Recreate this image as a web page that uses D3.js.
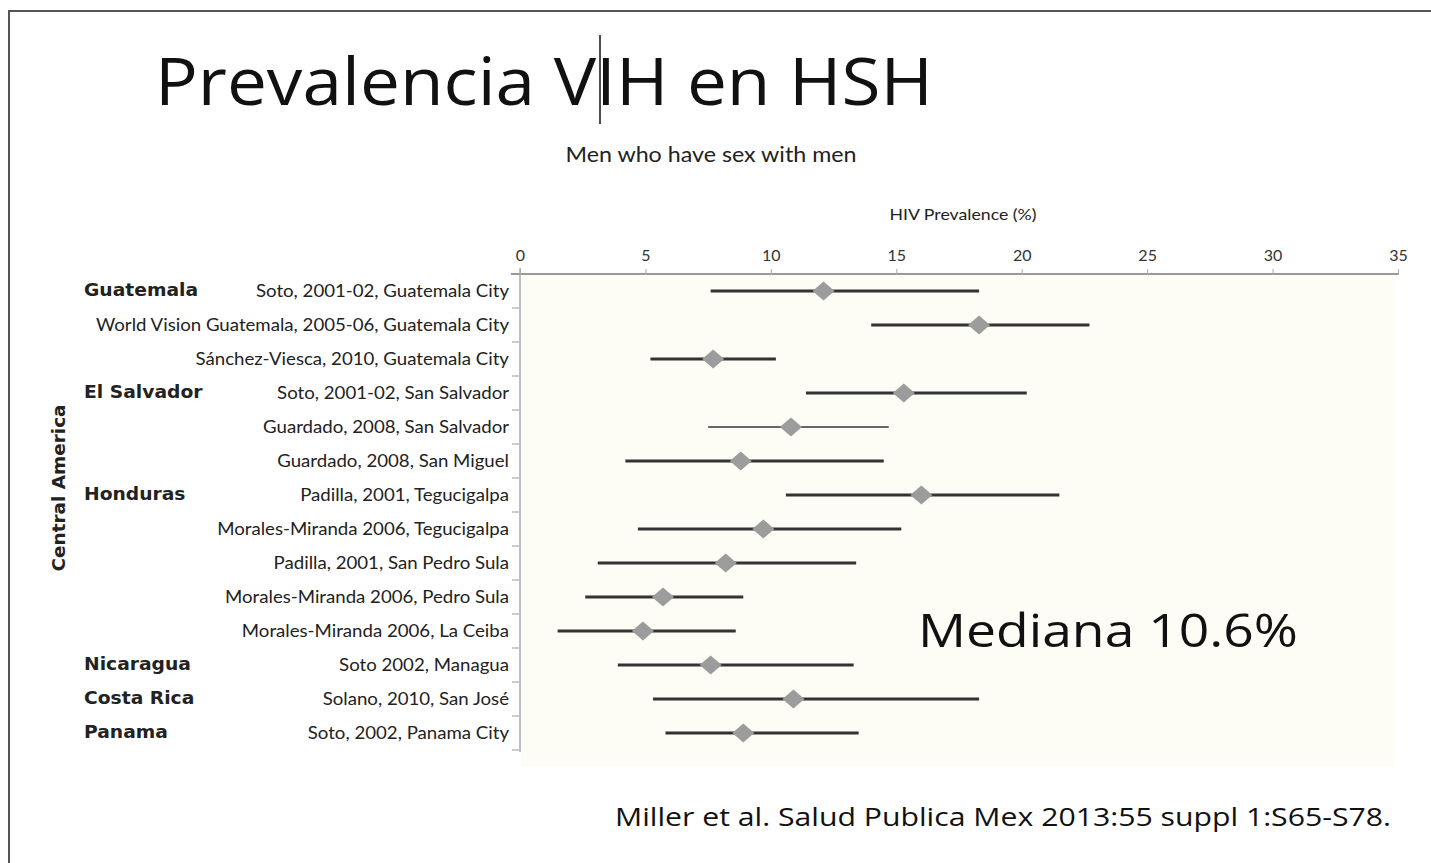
<!DOCTYPE html>
<html>
<head>
<meta charset="utf-8">
<script src="https://cdn.jsdelivr.net/npm/d3@7"></script>
<style>
  body { margin: 0; background: #fff; }
  svg { display: block; }
  .lab { font-family: Lato, "Open Sans", sans-serif; fill: #222; }
  .bold { font-family: "DejaVu Sans", sans-serif; font-weight: bold; fill: #222; }
  .slide { font-family: "Open Sans", sans-serif; fill: #111; }
</style>
</head>
<body>
<div id="chart"></div>
<script>
// studies, top to bottom
const studies = [
  "Soto, 2001-02, Guatemala City",
  "World Vision Guatemala, 2005-06, Guatemala City",
  "Sánchez-Viesca, 2010, Guatemala City",
  "Soto, 2001-02, San Salvador",
  "Guardado, 2008, San Salvador",
  "Guardado, 2008, San Miguel",
  "Padilla, 2001, Tegucigalpa",
  "Morales-Miranda 2006, Tegucigalpa",
  "Padilla, 2001, San Pedro Sula",
  "Morales-Miranda 2006, Pedro Sula",
  "Morales-Miranda 2006, La Ceiba",
  "Soto 2002, Managua",
  "Solano, 2010, San José",
  "Soto, 2002, Panama City"
];
const studyCountry = [
  "Guatemala", "Guatemala", "Guatemala",
  "El Salvador", "El Salvador", "El Salvador",
  "Honduras", "Honduras", "Honduras", "Honduras", "Honduras",
  "Nicaragua", "Costa Rica", "Panama"
];
const prevalence = [12.1, 18.3, 7.7, 15.3, 10.8, 8.8, 16.0, 9.7, 8.2, 5.7, 4.9, 7.6, 10.9, 8.9];
const lower      = [7.6, 14.0, 5.2, 11.4, 7.5, 4.2, 10.6, 4.7, 3.1, 2.6, 1.5, 3.9, 5.3, 5.8];
const upper      = [18.3, 22.7, 10.2, 20.2, 14.7, 14.5, 21.5, 15.2, 13.4, 8.9, 8.6, 13.3, 18.3, 13.5];
const xTicks = [0, 5, 10, 15, 20, 25, 30, 35];

const width = 1431, height = 863;

const svg = d3.select("#chart").append("svg")
    .attr("width", width)
    .attr("height", height);

// slide frame (top and left only)
svg.append("path")
    .attr("d", "M9,863 V11 H1431")
    .attr("fill", "none")
    .attr("stroke", "#555")
    .attr("stroke-width", 2);

// squeeze a text to a given width
function fit(sel, w) {
  let len = sel.node().getComputedTextLength();
  if (Math.abs(len - w) > 2) sel.attr("textLength", w).attr("lengthAdjust", "spacingAndGlyphs");
  return sel;
}

// title
let title = svg.append("text")
    .attr("class", "slide")
    .attr("x", 155).attr("y", 105)
    .attr("font-size", 66)
    .text("Prevalencia VIH en HSH");
fit(title, 778);

// text cursor
svg.append("line")
    .attr("x1", 600).attr("x2", 600)
    .attr("y1", 35).attr("y2", 124)
    .attr("stroke", "#111").attr("stroke-width", 1.5);

let x = d3.scaleLinear()
    .domain([0, 35])
    .range([520, 1398]);

let y = d3.scaleBand()
    .domain(studies)
    .range([274, 750]);

// plot background
svg.append("rect")
    .attr("x", 521).attr("y", 275)
    .attr("width", 872).attr("height", 492)
    .attr("fill", "#fdfdf5");

let sub = svg.append("text")
    .attr("class", "lab")
    .attr("x", 711).attr("y", 162)
    .attr("text-anchor", "middle")
    .attr("font-size", 21)
    .text("Men who have sex with men");
fit(sub, 291);

let axTitle = svg.append("text")
    .attr("class", "lab")
    .attr("x", 963).attr("y", 220)
    .attr("text-anchor", "middle")
    .attr("font-size", 16)
    .text("HIV Prevalence (%)");
fit(axTitle, 147);

// top axis
let xAxis = svg.append("g")
    .attr("transform", "translate(0,274)")
    .call(d3.axisTop(x).tickValues(xTicks).tickSize(5).tickPadding(8));
xAxis.select(".domain").attr("stroke", "#999").attr("stroke-width", 2).attr("d", "M511,0H1398");
xAxis.selectAll(".tick line").attr("stroke", "#aaa").attr("y2", -5).attr("y1", 1);
xAxis.selectAll(".tick text")
    .attr("font-family", "Lato, sans-serif")
    .attr("font-size", 16)
    .attr("fill", "#333");

// left axis with ticks between rows
svg.append("line")
    .attr("x1", 520).attr("x2", 520)
    .attr("y1", 268).attr("y2", 752)
    .attr("stroke", "#aaa").attr("stroke-width", 1.5);

svg.selectAll(".ytick")
    .data(studies)
  .enter().append("line")
    .attr("class", "ytick")
    .attr("x1", 512).attr("x2", 520)
    .attr("y1", d => y(d) + y.bandwidth())
    .attr("y2", d => y(d) + y.bandwidth())
    .attr("stroke", "#bbb").attr("stroke-width", 1.5);

// study labels
svg.selectAll(".study")
    .data(studies)
  .enter().append("text")
    .attr("class", "lab study")
    .attr("x", 509)
    .attr("y", d => y(d) + y.bandwidth() / 2)
    .attr("dy", "0.35em")
    .attr("text-anchor", "end")
    .attr("font-size", 18)
    .text(d => d)
    .each(function() {
      fit(d3.select(this), this.getComputedTextLength() * 1.035);
    });

// country labels at first row of each group
let firsts = studies.filter((s, i) => i === 0 || studyCountry[i] !== studyCountry[i - 1]);
svg.selectAll(".country")
    .data(firsts)
  .enter().append("text")
    .attr("class", "bold country")
    .attr("x", 84)
    .attr("y", d => y(d) + y.bandwidth() / 2)
    .attr("dy", "0.3em")
    .attr("font-size", 17)
    .text(d => studyCountry[studies.indexOf(d)])
    .each(function() {
      fit(d3.select(this), this.getComputedTextLength() * 1.1);
    });

let region = svg.append("text")
    .attr("class", "bold")
    .attr("transform", "translate(65,488) rotate(-90)")
    .attr("text-anchor", "middle")
    .attr("font-size", 17)
    .text("Central America");
fit(region, 167);

// confidence intervals
svg.selectAll(".ci")
    .data(studies)
  .enter().append("line")
    .attr("class", "ci")
    .attr("x1", (d, i) => x(lower[i]))
    .attr("x2", (d, i) => x(upper[i]))
    .attr("y1", d => y(d) + y.bandwidth() / 2)
    .attr("y2", d => y(d) + y.bandwidth() / 2)
    .attr("stroke", (d, i) => i === 4 ? "#666" : "#333")
    .attr("stroke-width", (d, i) => i === 4 ? 2 : 3);

// point estimates
svg.selectAll(".est")
    .data(studies)
  .enter().append("path")
    .attr("class", "est")
    .attr("transform", (d, i) => "translate(" + x(prevalence[i]) + "," + (y(d) + y.bandwidth() / 2) + ")")
    .attr("d", "M-11,0L0,-9.5L11,0L0,9.5Z")
    .attr("fill", "#9c9c9c");

let med = svg.append("text")
    .attr("class", "slide")
    .attr("x", 918).attr("y", 647)
    .attr("font-size", 46)
    .text("Mediana 10.6%");
fit(med, 380);

let cite = svg.append("text")
    .attr("class", "slide")
    .attr("x", 615).attr("y", 826)
    .attr("font-size", 25)
    .text("Miller et al. Salud Publica Mex 2013:55 suppl 1:S65-S78.");
fit(cite, 776);
</script>
</body>
</html>
